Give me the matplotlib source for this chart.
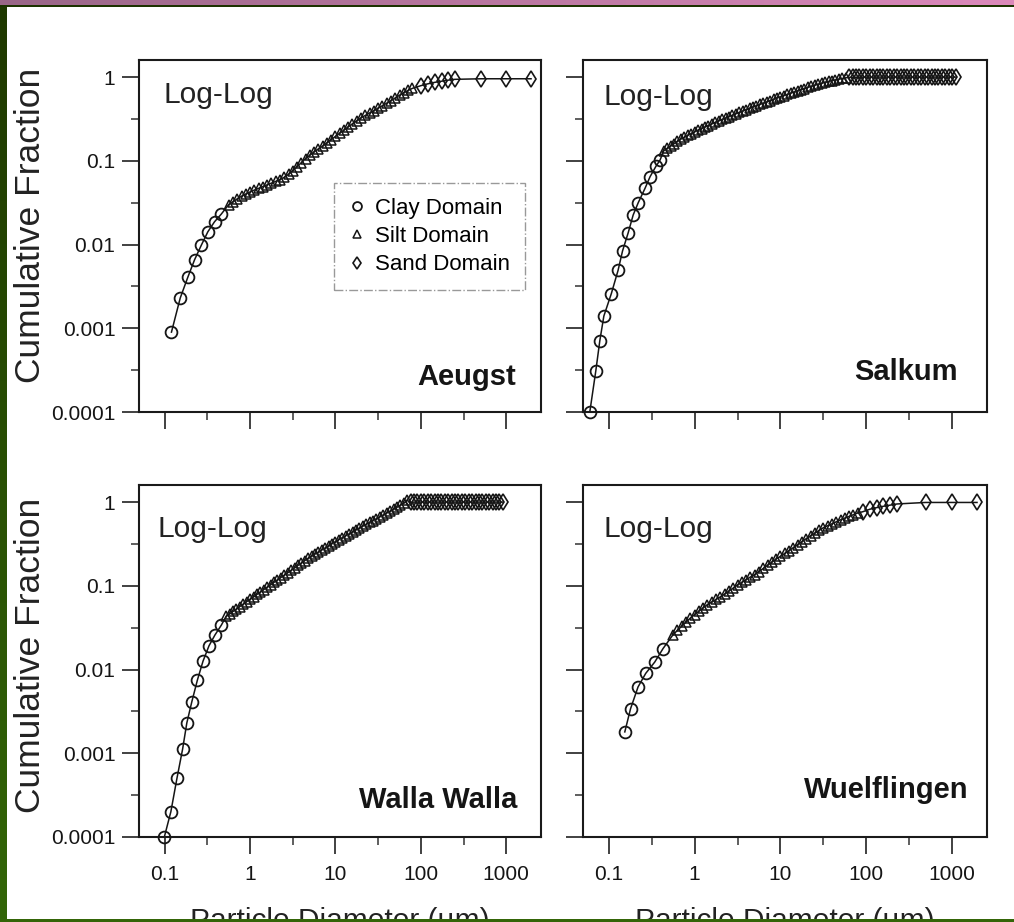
import numpy as np
import matplotlib
matplotlib.use("Agg")
import matplotlib.pyplot as plt
from matplotlib.patches import Rectangle
from matplotlib.ticker import NullFormatter

plt.rcParams["font.family"] = ["Liberation Sans", "DejaVu Sans"]

# --- data (diameter in um, cumulative fraction) ---
# silt bins shared by Aeugst and Wuelflingen
silt_x_coarse = [0.562, 0.631, 0.708, 0.794, 0.891, 1.0, 1.12, 1.26, 1.41, 1.58, 1.78, 2.0,
                 2.24, 2.51, 2.82, 3.16, 3.55, 3.98, 4.47, 5.01, 5.62, 6.31, 7.08, 7.94, 8.91,
                 10.0, 11.2, 12.6, 14.1, 15.8, 17.8, 20.0, 22.4, 25.1, 28.2, 31.6, 35.5, 39.8,
                 44.7, 50.1, 56.2, 63.1, 70.8, 79.4]

aeugst_clay_x = [0.120, 0.152, 0.187, 0.224, 0.268, 0.320, 0.383, 0.458]
aeugst_clay_y = [0.0009, 0.0023, 0.0041, 0.0066, 0.0098, 0.0142, 0.0187, 0.023]
aeugst_silt_x = silt_x_coarse
aeugst_silt_y = [0.030, 0.0324, 0.0352, 0.0378, 0.0402, 0.0425, 0.0447, 0.0469, 0.0492, 0.0516,
                 0.0542, 0.0568, 0.0598, 0.0636, 0.0690, 0.0760, 0.0850, 0.0950, 0.106, 0.117,
                 0.128, 0.139, 0.150, 0.164, 0.179, 0.196, 0.214, 0.233, 0.255, 0.277, 0.301,
                 0.327, 0.349, 0.373, 0.398, 0.427, 0.456, 0.488, 0.525, 0.564, 0.607, 0.653,
                 0.692, 0.733]
aeugst_sand_x = [100, 120, 145, 175, 210, 250, 510, 1000, 1950]
aeugst_sand_y = [0.79, 0.83, 0.865, 0.893, 0.92, 0.94, 0.955, 0.955, 0.955]

salkum_clay_x = [0.060, 0.0705, 0.0785, 0.0875, 0.107, 0.128, 0.1445, 0.168, 0.192, 0.22,
                 0.264, 0.302, 0.355, 0.395]
salkum_clay_y = [0.0001, 0.00031, 0.00071, 0.0014, 0.0026, 0.0049, 0.0084, 0.0138, 0.0225,
                 0.0316, 0.0469, 0.0645, 0.0865, 0.102]
salkum_silt_x = [0.4365, 0.4786, 0.5248, 0.5754, 0.631, 0.6918, 0.7586, 0.8318, 0.912, 1.0,
                 1.096, 1.202, 1.318, 1.445, 1.585, 1.738, 1.905, 2.089, 2.291, 2.512, 2.754,
                 3.02, 3.311, 3.631, 3.981, 4.365, 4.786, 5.248, 5.754, 6.31, 6.918, 7.586,
                 8.318, 9.12, 10.0, 10.96, 12.02, 13.18, 14.45, 15.85, 17.38, 19.05, 20.89,
                 22.91, 25.12, 27.54, 30.2, 33.11, 36.31, 39.81, 43.65, 47.86, 52.48, 57.54]
salkum_silt_y = [0.132, 0.1406, 0.150, 0.160, 0.1714, 0.182, 0.191, 0.201, 0.211, 0.222,
                 0.233, 0.243, 0.2535, 0.264, 0.276, 0.2877, 0.299, 0.312, 0.3243, 0.3373,
                 0.3508, 0.3648, 0.3784, 0.3936, 0.4083, 0.4236, 0.4385, 0.4539, 0.471, 0.4875,
                 0.505, 0.5236, 0.542, 0.5623, 0.582, 0.601, 0.622, 0.643, 0.664, 0.687,
                 0.708, 0.730, 0.753, 0.776, 0.80, 0.82, 0.843, 0.865, 0.887, 0.908,
                 0.925, 0.944, 0.962, 0.98]
salkum_sand_x = [63.1, 69.18, 75.86, 83.18, 91.2, 100, 109.6, 120.2, 131.8, 144.5, 158.5,
                 173.8, 190.5, 208.9, 229.1, 251.2, 275.4, 302, 331.1, 363.1, 398.1, 436.5,
                 478.6, 524.8, 575.4, 631, 691.8, 758.6, 831.8, 912, 1000, 1096]
salkum_sand_y = [0.99, 0.993, 0.995, 0.997, 0.998, 0.999, 1.0, 1.0, 1.0, 1.0, 1.0,
                 1.0, 1.0, 1.0, 1.0, 1.0, 1.0, 1.0, 1.0, 1.0, 1.0, 1.0,
                 1.0, 1.0, 1.0, 1.0, 1.0, 1.0, 1.0, 1.0, 1.0, 1.0]

walla_clay_x = [0.099, 0.118, 0.139, 0.162, 0.1815, 0.2075, 0.2415, 0.281, 0.33, 0.387, 0.461]
walla_clay_y = [0.0001, 0.0002, 0.0005, 0.00112, 0.0023, 0.0041, 0.0075, 0.0126, 0.0192,
                0.0258, 0.034]
walla_silt_x = [0.5248, 0.5754, 0.631, 0.6918, 0.7586, 0.8318, 0.912, 1.0, 1.096, 1.202,
                1.318, 1.445, 1.585, 1.738, 1.905, 2.089, 2.291, 2.512, 2.754, 3.02, 3.311,
                3.631, 3.981, 4.365, 4.786, 5.248, 5.754, 6.31, 6.918, 7.586, 8.318, 9.12,
                10.0, 10.96, 12.02, 13.18, 14.45, 15.85, 17.38, 19.05, 20.89, 22.91, 25.12,
                27.54, 30.2, 33.11, 36.31, 39.81, 43.65, 47.86, 52.48, 57.54, 63.1, 69.18]
walla_silt_y = [0.0433, 0.0462, 0.0494, 0.0528, 0.0566, 0.0605, 0.0647, 0.0692, 0.0738, 0.0789,
                0.0843, 0.0902, 0.0964, 0.103, 0.110, 0.1175, 0.1256, 0.134, 0.143, 0.153,
                0.1637, 0.175, 0.187, 0.20, 0.2133, 0.226, 0.2393, 0.253, 0.268, 0.2838,
                0.3006, 0.3184, 0.338, 0.3565, 0.376, 0.3963, 0.4178, 0.4406, 0.4645, 0.49,
                0.515, 0.543, 0.5715, 0.601, 0.634, 0.667, 0.703, 0.74, 0.78, 0.822,
                0.867, 0.916, 0.966, 1.05]
walla_sand_x = [75.86, 83.18, 91.2, 100, 109.6, 120.2, 131.8, 144.5, 158.5, 173.8, 190.5,
                208.9, 229.1, 251.2, 275.4, 302, 331.1, 363.1, 398.1, 436.5, 478.6, 524.8,
                575.4, 631, 691.8, 758.6, 831.8, 912]
walla_sand_y = [0.99, 1.0, 1.0, 1.0, 1.0, 1.0, 1.0, 1.0, 1.0, 1.0, 1.0,
                1.0, 1.0, 1.0, 1.0, 1.0, 1.0, 1.0, 1.0, 1.0, 1.0, 1.0,
                1.0, 1.0, 1.0, 1.0, 1.0, 1.0]

wuelf_clay_x = [0.1535, 0.179, 0.219, 0.269, 0.343, 0.428]
wuelf_clay_y = [0.0018, 0.0034, 0.0062, 0.009, 0.0123, 0.0178]
wuelf_silt_x = silt_x_coarse
wuelf_silt_y = [0.0262, 0.0294, 0.033, 0.0369, 0.0412, 0.0453, 0.0498, 0.0547, 0.0597, 0.0641,
                0.0689, 0.074, 0.0798, 0.0867, 0.0942, 0.1028, 0.1104, 0.1186, 0.1274, 0.1365,
                0.148, 0.1614, 0.1762, 0.1923, 0.209, 0.2254, 0.2438, 0.2636, 0.2858, 0.3105,
                0.3373, 0.3664, 0.3954, 0.4256, 0.4592, 0.4943, 0.5224, 0.5508, 0.582, 0.6138,
                0.6442, 0.6745, 0.7079, 0.7413]
wuelf_sand_x = [91, 110, 132, 158, 190, 229, 490, 1000, 1950]
wuelf_sand_y = [0.767, 0.822, 0.859, 0.891, 0.92, 0.95, 0.99, 0.99, 0.99]

x_ticks = [0.1, 1, 10, 100, 1000]
x_tick_labels = ["0.1", "1", "10", "100", "1000"]
y_ticks = [0.0001, 0.001, 0.01, 0.1, 1]
y_tick_labels = ["0.0001", "0.001", "0.01", "0.1", "1"]
legend_labels = ["Clay Domain", "Silt Domain", "Sand Domain"]

panels = [
    # name, clay, silt, sand, axes rect (px), Log-Log pos, name pos
    ("Aeugst", (aeugst_clay_x, aeugst_clay_y), (aeugst_silt_x, aeugst_silt_y),
     (aeugst_sand_x, aeugst_sand_y), (139, 60, 541, 412), (0.062, 0.878), (0.938, 0.077)),
    ("Salkum", (salkum_clay_x, salkum_clay_y), (salkum_silt_x, salkum_silt_y),
     (salkum_sand_x, salkum_sand_y), (583, 60, 987, 412), (0.05, 0.872), (0.928, 0.091)),
    ("Walla Walla", (walla_clay_x, walla_clay_y), (walla_silt_x, walla_silt_y),
     (walla_sand_x, walla_sand_y), (139, 485, 541, 837), (0.047, 0.852), (0.94, 0.082)),
    ("Wuelflingen", (wuelf_clay_x, wuelf_clay_y), (wuelf_silt_x, wuelf_silt_y),
     (wuelf_sand_x, wuelf_sand_y), (583, 485, 987, 837), (0.05, 0.852), (0.955, 0.111)),
]

W, H = 1014, 922
fig = plt.figure(figsize=(W / 100, H / 100), dpi=100)
fig.patch.set_facecolor("white")

ink = "#151515"
for i, (name, clay, silt, sand, rect, ll_pos, name_pos) in enumerate(panels):
    l, t, r, b = rect
    ax = fig.add_axes([l / W, 1 - b / H, (r - l) / W, (b - t) / H])
    ax.set_xscale("log")
    ax.set_yscale("log")
    ax.set_xlim(0.05, 2550)
    ax.set_ylim(0.0001, 1.6)

    all_x = list(clay[0]) + list(silt[0]) + list(sand[0])
    all_y = list(clay[1]) + list(silt[1]) + list(sand[1])
    ax.plot(all_x, all_y, color=ink, lw=1.1, zorder=2)
    ax.plot(clay[0], clay[1], "o", mfc="none", mec=ink, ms=8.5, mew=1.3,
            label=legend_labels[0], clip_on=False, zorder=3)
    ax.plot(silt[0], silt[1], "^", mfc="none", mec=ink, ms=7.5, mew=1.1,
            label=legend_labels[1], clip_on=False, zorder=3)
    ax.plot(sand[0], sand[1], "d", mfc="none", mec=ink, ms=8, mew=1.2,
            label=legend_labels[2], clip_on=False, zorder=3)

    ax.set_xticks(x_ticks, x_tick_labels)
    ax.set_yticks(y_ticks, y_tick_labels)
    ax.set_xticks([0.316, 3.16, 31.6, 316], minor=True)
    ax.set_yticks([0.000316, 0.00316, 0.0316, 0.316], minor=True)
    ax.xaxis.set_minor_formatter(NullFormatter())
    ax.yaxis.set_minor_formatter(NullFormatter())
    ax.tick_params(which="major", direction="out", length=12, width=1.3, color="#333",
                   labelsize=15, labelcolor=ink, pad=5)
    ax.tick_params(which="minor", direction="out", length=6, width=1.1, color="#333")
    ax.tick_params(axis="x", which="major", pad=8)
    if i < 2:
        ax.tick_params(labelbottom=False)
    if i % 2 == 1:
        ax.tick_params(labelleft=False)
    for sp in ax.spines.values():
        sp.set_linewidth(1.5)
        sp.set_color("#1a1a1a")

    ax.text(ll_pos[0], ll_pos[1], "Log-Log", transform=ax.transAxes, fontsize=21.5,
            color="#222", ha="left", va="baseline")
    ax.text(name_pos[0], name_pos[1], name, transform=ax.transAxes, fontsize=21,
            fontweight="bold", color=ink, ha="right", va="baseline")

    if i == 0:
        leg = ax.legend(loc="upper left", bbox_to_anchor=(0.486, 0.65), borderaxespad=0,
                        fontsize=16, frameon=True, fancybox=False, edgecolor="#808080",
                        handlelength=0.7, handletextpad=0.5, borderpad=0.65,
                        labelspacing=0.33, markerscale=0.75)
        leg.get_frame().set_linestyle("-.")
        leg.get_frame().set_linewidth(1.0)

# axis titles shared per row / column
for yc in (225, 655):
    fig.text(31 / W, 1 - yc / H, "Cumulative Fraction", rotation=90, fontsize=25.5,
             color="#222", ha="center", va="center")
# the x titles run off the bottom edge, as in the reference
for xc in (340, 785):
    fig.text(xc / W, (H - 929) / H, "Particle Diameter (\u00b5m)", fontsize=21.5,
             color="#222", ha="center", va="baseline", zorder=5)

# slide frame: purple gradient bar on top, green strip left and bottom
top_ax = fig.add_axes([0, 1 - 5 / H, 1, 5 / H])
grad = np.linspace(0, 1, 256)
c0 = np.array([0.60, 0.40, 0.53])
c1 = np.array([0.86, 0.54, 0.73])
top_ax.imshow((c0 + (c1 - c0) * grad[:, None])[None, :, :], aspect="auto")
top_ax.axis("off")
fig.patches.append(Rectangle((0, 1 - 7 / H), 1, 2 / H, transform=fig.transFigure,
                             facecolor="#1c3200", edgecolor="none", zorder=10))
left_ax = fig.add_axes([0, 0, 7 / W, 1 - 5 / H])
g0 = np.array([0.12, 0.22, 0.0])
g1 = np.array([0.20, 0.40, 0.03])
left_ax.imshow((g0 + (g1 - g0) * grad[:, None])[:, None, :], aspect="auto")
left_ax.axis("off")
fig.patches.append(Rectangle((0, 0), 1, 3 / H, transform=fig.transFigure,
                             facecolor="#346508", edgecolor="none", zorder=10))

fig.savefig("out.png", dpi=100)
